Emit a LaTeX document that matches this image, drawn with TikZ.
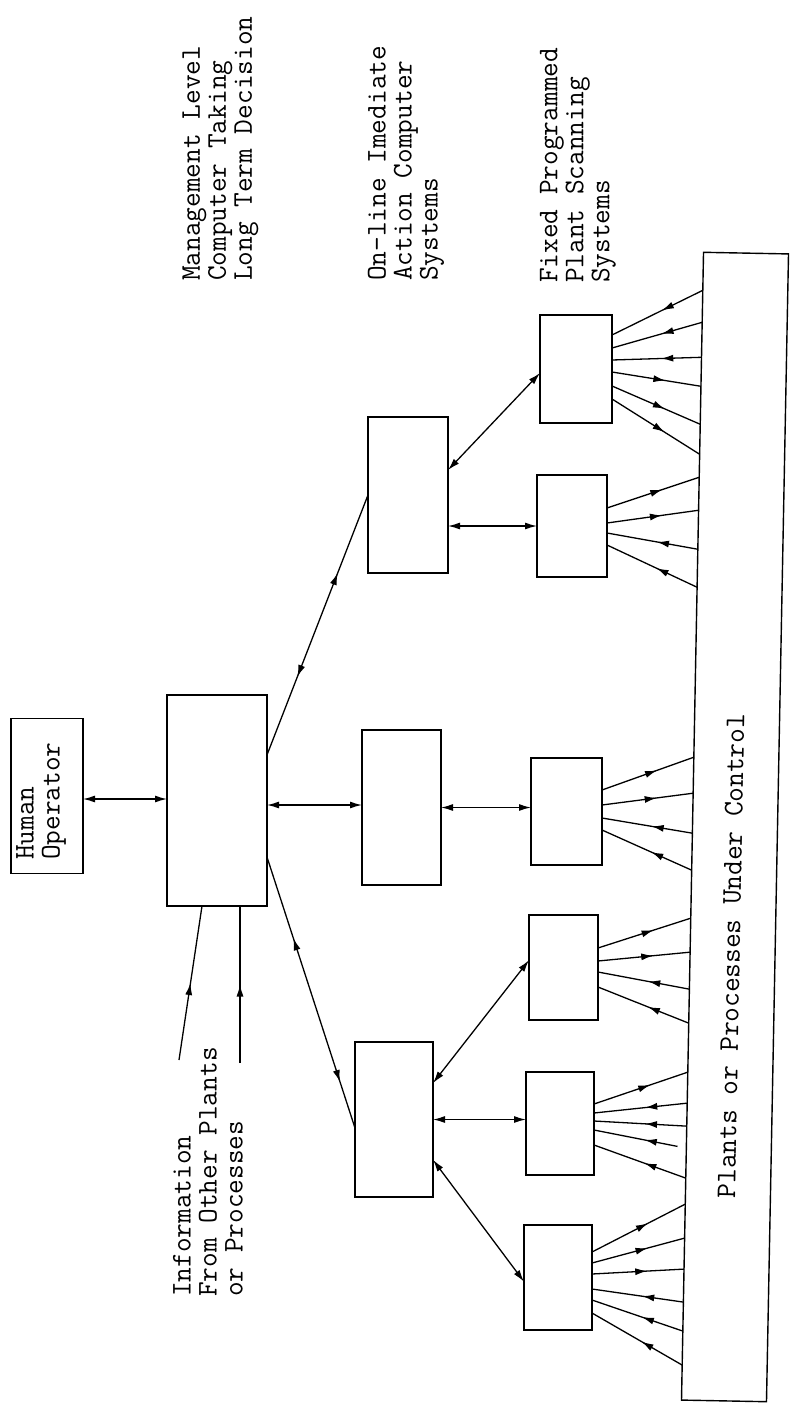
\documentclass[tikz,border=0pt]{standalone}
\usepackage{fontspec}
\usetikzlibrary{arrows.meta,decorations.markings,calc}
\newcommand\lblfont{\ttfamily\fontsize{28.5}{26}\selectfont}
\tikzset{
  >={Latex[length=12pt,width=7pt]},
  blk/.style={draw, line width=1.4pt, inner sep=0pt, outer sep=0pt},
  lbl/.style={font=\lblfont, inner sep=0pt, align=left},
  conn/.style={line width=1.3pt},
  dbl/.style={conn, <->},
  headin/.style={postaction={decorate,decoration={markings,mark=at position #1 with {\arrowreversed{>}}}}},
  headin/.default=0.55,
  headout/.style={postaction={decorate,decoration={markings,mark=at position #1 with {\arrow{>}}}}},
  headout/.default=0.6,
}
\begin{document}
\begin{tikzpicture}[x=1pt,y=-1pt]
\useasboundingbox (0,0) rectangle (790,1404);

% labels
\node[lbl, rotate=90, anchor=west] (mgmtlbl) at (220.5,281) {Management Level\\Computer Taking\\Long Term Decision};
\node[lbl, rotate=90, anchor=west] (onlbl) at (406,281) {On-line Imediate\\Action Computer\\Systems};
\node[lbl, rotate=90, anchor=west] (fixlbl) at (578,283) {Fixed Programmed\\Plant Scanning\\Systems};
\node[lbl, rotate=90, anchor=west] (infolbl) at (208,1297) {Information\\From Other Plants\\or Processes};

% boxes
\node[blk, minimum width=72pt, minimum height=155pt] (human) at (47,796) {};
\node[lbl, rotate=90, anchor=west] (humanlbl) at (41,860) {Human\\Operator};
\node[blk, minimum width=100pt, minimum height=211pt] (mgmt) at (217,800.5) {};

\node[blk, minimum width=80pt, minimum height=156pt] (onA) at (408,495) {};
\node[blk, minimum width=79pt, minimum height=155pt] (onB) at (401.5,807.5) {};
\node[blk, minimum width=78pt, minimum height=155pt] (onC) at (394,1119.5) {};

\node[blk, minimum width=72pt, minimum height=108pt] (f1) at (576,369) {};
\node[blk, minimum width=70pt, minimum height=102pt] (f2) at (572,526) {};
\node[blk, minimum width=71pt, minimum height=107pt] (f3) at (566.5,811.5) {};
\node[blk, minimum width=69pt, minimum height=105pt] (f4) at (563.5,967.5) {};
\node[blk, minimum width=68pt, minimum height=103pt] (f5) at (560,1123.5) {};
\node[blk, minimum width=68pt, minimum height=105pt] (f6) at (558,1277.5) {};

\node[blk, rotate=88.9, minimum width=1148pt, minimum height=85pt] (plants) at (735,827) {};
\node[lbl, rotate=88.9] (plantslbl) at (731,956) {Plants or Processes Under Control};

% horizontal double arrows
\coordinate (h1) at ([yshift=-3pt]human.east);
\draw[dbl] (h1) -- (h1 -| mgmt.west);
\coordinate (m1) at ([yshift=-4.5pt]mgmt.east);
\draw[dbl] (m1) -- (m1 -| onB.west);
\draw[dbl] (onB.east) -- (onB.east -| f3.west);
\coordinate (a1) at (f2.west -| onA.east);
\draw[dbl] (a1) -- (f2.west);
\draw[dbl] (onC.east) -- (onC.east -| f5.west);

% diagonal connectors
\draw[conn, headin=0.3, headout=0.7] ($(mgmt.north east)!0.284!(mgmt.south east)$) -- (onA.west);
\draw[conn, headin=0.3, headout=0.83] ($(mgmt.north east)!0.768!(mgmt.south east)$) -- ($(onC.north west)!0.555!(onC.south west)$);
\draw[dbl] ($(onA.north east)!0.34!(onA.south east)$) -- ($(f1.north west)!0.537!(f1.south west)$);
\draw[dbl] ($(onC.north east)!0.265!(onC.south east)$) -- ($(f4.north west)!0.43!(f4.south west)$);
\draw[dbl] ($(onC.north east)!0.76!(onC.south east)$) -- ($(f6.north west)!0.54!(f6.south west)$);

% information inputs
\coordinate (in1) at (179,1060);
\coordinate (in2) at (240,1063);
\draw[conn, headout=0.5] (in1) -- ($(mgmt.south west)!0.35!(mgmt.south east)$);
\draw[conn, headout=0.5] (in2) -- (in2 |- mgmt.south);

% fans to the plants
\foreach \ys/\ye/\d in {335/290/headin, 348/322/headin, 360/357/headin, 372/386/headout, 386/424/headout, 399/454/headout}
  \draw[conn,\d] (f1.east |- 0,\ys) -- ($(plants.north west)!{(1400-\ye)/1148}!(plants.north east)$);
\foreach \ys/\ye/\d in {508/477/headout, 523/510/headout, 533/549/headin, 545/587/headin}
  \draw[conn,\d] (f2.east |- 0,\ys) -- ($(plants.north west)!{(1400-\ye)/1148}!(plants.north east)$);
\foreach \ys/\ye/\d in {790/757/headout, 805/793/headout, 818/833/headin, 830/870/headin}
  \draw[conn,\d] (f3.east |- 0,\ys) -- ($(plants.north west)!{(1400-\ye)/1148}!(plants.north east)$);
\foreach \ys/\ye/\d in {948/918/headout, 961/952/headout, 972/989/headin, 987/1023/headin}
  \draw[conn,\d] (f4.east |- 0,\ys) -- ($(plants.north west)!{(1400-\ye)/1148}!(plants.north east)$);
\foreach \ys/\ye/\d in {1104/1072/headout, 1113/1103/headin, 1121/1126/headin, 1145/1178/headin}
  \draw[conn,\d] (f5.east |- 0,\ys) -- ($(plants.north west)!{(1400-\ye)/1148}!(plants.north east)$);
\draw[conn,headin,shorten >=9pt] (f5.east |- 0,1130) -- ($(plants.north west)!{(1400-1148)/1148}!(plants.north east)$);
\foreach \ys/\ye/\d in {1252/1204/headout, 1263/1238/headout, 1274/1269/headout, 1289/1302/headin, 1300/1331/headin, 1313/1365/headin}
  \draw[conn,\d] (f6.east |- 0,\ys) -- ($(plants.north west)!{(1400-\ye)/1148}!(plants.north east)$);
\end{tikzpicture}
\end{document}
